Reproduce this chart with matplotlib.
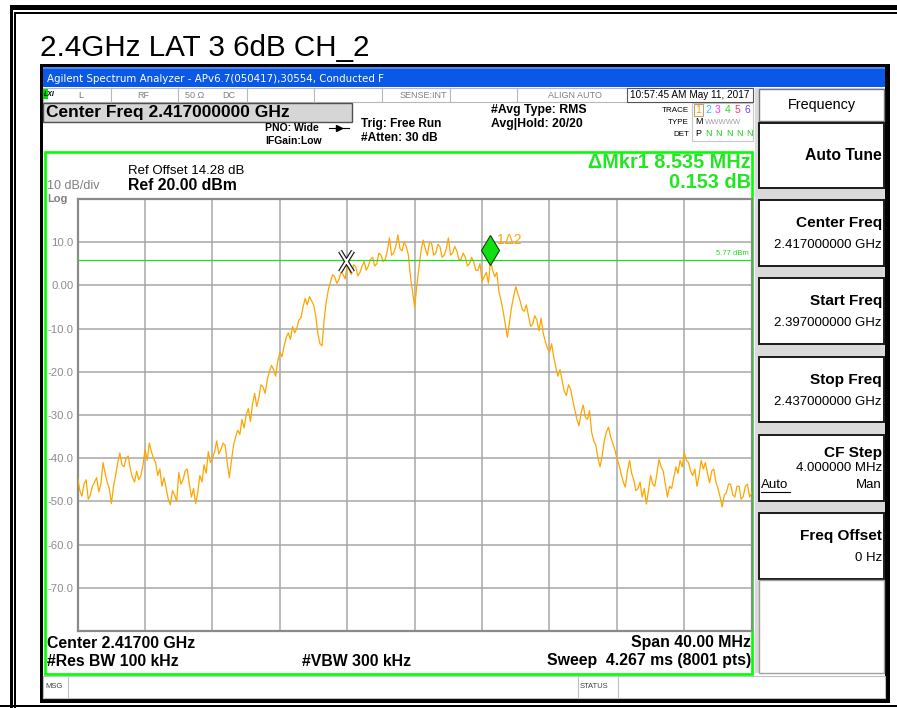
import numpy as np
import matplotlib.pyplot as plt
from matplotlib.patches import Rectangle
from matplotlib.path import Path
from matplotlib.transforms import offset_copy

plt.rcParams['font.family'] = ['Liberation Sans', 'DejaVu Sans']

center_mhz = 2417.0
span_mhz = 40.0
ref_level = 20.0
bottom_level = -80.0

# trace 1 (dBm), 0.125 MHz apart from start to stop freq
trace_dbm = [
    -44.5, -47.5, -48.8, -46.0, -45.0, -49.5, -48.5, -46.5, -45.5, -44.5,
    -47.8, -46.0, -41.0, -43.5, -45.5, -47.0, -50.5, -46.5, -44.0, -41.0,
    -38.8, -41.5, -42.0, -40.0, -39.5, -42.5, -44.5, -45.5, -43.0, -45.0,
    -44.0, -41.5, -38.0, -40.5, -36.5, -38.5, -40.0, -41.0, -44.0, -42.5,
    -46.5, -44.5, -47.0, -49.5, -50.8, -47.5, -48.5, -50.0, -43.3, -46.0,
    -45.0, -43.0, -42.5, -46.0, -49.0, -47.0, -50.5, -48.0, -44.0, -45.5,
    -41.5, -43.5, -38.5, -41.0, -40.0, -38.5, -36.0, -39.0, -38.0, -36.5,
    -37.0, -41.0, -44.5, -40.5, -37.0, -35.0, -33.5, -34.5, -31.0, -33.0,
    -30.0, -28.5, -31.5, -27.5, -25.0, -28.0, -26.0, -23.0, -23.5, -25.0,
    -21.8, -20.0, -18.5, -19.5, -21.0, -17.5, -15.5, -16.5, -14.0, -12.0,
    -11.0, -12.5, -9.5, -11.0, -10.0, -8.0, -7.5, -5.0, -3.0, -4.5,
    -2.6, -3.5, -4.5, -7.0, -11.0, -13.5, -14.0, -8.0, -3.8, -1.0,
    0.8, 2.5, 2.0, 0.5, 1.3, 3.0, 2.5, 1.5, 5.0, 3.5,
    2.5, 4.8, 4.3, 2.2, 3.0, 4.5, 5.5, 3.5, 4.5, 6.0,
    6.5, 4.5, 5.0, 7.5, 7.0, 5.5, 6.0, 8.0, 11.0, 7.0,
    7.5, 9.0, 11.7, 8.5, 8.0, 10.0, 9.0, 7.0, 2.0, -1.5,
    -5.0, 0.0, 4.0, 8.0, 10.5, 8.5, 7.0, 10.0, 9.8, 7.0,
    7.5, 9.5, 9.0, 6.5, 7.0, 8.5, 11.0, 7.0, 7.5, 9.0,
    8.0, 6.0, 6.0, 7.5, 6.5, 4.5, 5.0, 6.5, 5.5, 3.5,
    3.5, 5.0, 1.0, 2.0, 3.0, 0.5, 5.8, 3.5, 2.0, 3.0,
    -1.5, -3.5, -6.0, -9.0, -12.0, -8.5, -5.0, -2.5, -0.3, -2.0,
    -3.5, -5.5, -6.0, -4.5, -7.0, -9.5, -9.0, -7.0, -8.0, -10.5,
    -7.6, -11.0, -13.0, -14.5, -15.5, -13.5, -16.5, -19.0, -21.0, -19.5,
    -22.0, -24.5, -25.5, -23.0, -24.0, -26.5, -28.7, -31.0, -32.5, -29.5,
    -27.7, -30.5, -31.0, -29.0, -34.0, -36.0, -37.0, -40.0, -42.0, -39.5,
    -36.0, -34.0, -32.8, -35.0, -36.5, -38.0, -40.0, -41.5, -43.6, -45.5,
    -46.7, -43.0, -40.5, -43.5, -45.0, -47.5, -47.0, -45.5, -49.0, -47.0,
    -50.6, -47.5, -44.0, -46.0, -46.5, -43.5, -40.3, -42.0, -43.0, -46.0,
    -49.0, -46.5, -47.0, -44.5, -42.0, -43.5, -40.5, -42.0, -38.7, -40.5,
    -41.0, -43.0, -44.0, -42.5, -46.5, -44.0, -40.5, -42.5, -41.0, -43.5,
    -45.7, -43.0, -42.5, -45.5, -47.0, -49.0, -51.3, -48.5, -48.0, -46.0,
    -46.0, -48.5, -49.0, -46.5, -46.5, -49.5, -48.8, -46.5, -46.0, -49.0,
    -48.0,
]

y_tick_vals = [10, 0, -10, -20, -30, -40, -50, -60, -70]
y_tick_labels = ['10.0', '0.00', '-10.0', '-20.0', '-30.0', '-40.0', '-50.0', '-60.0', '-70.0']

# markers: reference (X) and delta marker 1
mkr_ref_offset_mhz = -4.065
mkr_ref_dbm = 5.62
mkr_delta_mhz = 8.535
mkr_delta_db = 0.153
display_line_dbm = 5.77

softkeys = [
    (200, 266, 'Center Freq', '2.417000000 GHz'),
    (278, 344, 'Start Freq', '2.397000000 GHz'),
    (357, 422, 'Stop Freq', '2.437000000 GHz'),
    (513, 579, 'Freq Offset', '0 Hz'),
]
trace_digits = ['1', '2', '3', '4', '5', '6']
trace_colors = ['#ffa000', '#20c8ff', '#ff30ff', '#30d830', '#ff3060', '#7040ff']

fig = plt.figure(figsize=(8.97, 7.08), dpi=100)
bg = fig.add_axes([0, 0, 1, 1])
bg.set_xlim(0, 897)
bg.set_ylim(708, 0)
bg.axis('off')


def box(x0, y0, x1, y1, fc='white', ec='none', lw=0.0, z=1):
    bg.add_patch(Rectangle((x0, y0), x1 - x0, y1 - y0, facecolor=fc,
                           edgecolor=ec, linewidth=lw, zorder=z))


def txt(x, y, s, size=8, color='black', weight='normal', ha='left', **kw):
    bg.text(x, y, s, fontsize=size, color=color, fontweight=weight,
            ha=ha, va='center', zorder=5, **kw)


# page border lines
box(10, 5, 897, 10, fc='black')
box(14, 12, 897, 14, fc='black')
box(10, 5, 12.5, 708, fc='black')
box(14, 12, 15.5, 708, fc='black')
box(0, 705, 897, 707, fc='black')

txt(40, 48, '2.4GHz LAT 3 6dB CH_2', size=21.3)

# analyzer window
box(40, 64, 890, 703, fc='black')
box(43, 67, 885, 698, fc='white')
box(43, 67, 885, 87, fc='#0a58e6')
box(43, 67, 885, 69, fc='#4a8cf5')
txt(47, 78.5, 'Agilent Spectrum Analyzer - APv6.7(050417),30554, Conducted F',
    size=7.4, color='white', family='DejaVu Sans')

# status row
box(43, 88, 753, 102, fc='white', ec='#b8b8b8', lw=0.8)
for xd in [111, 178, 247, 314, 382, 450, 517]:
    bg.plot([xd, xd], [88, 102], color='#b8b8b8', lw=0.8, zorder=2)
box(627, 88, 753, 102, fc='white', ec='#555555', lw=0.8, z=2)
box(43, 89, 47.5, 99, fc='#00e000')
txt(43.5, 94.5, 'LXI', size=5, weight='bold', style='italic')
txt(78, 95, 'L', size=6.5, color='#707070')
txt(143, 95, 'RF', size=6.5, color='#808080', ha='center')
txt(185, 95, '50 Ω', size=6.5, color='#808080')
txt(222, 95, 'DC', size=6.5, color='#808080')
txt(447, 95, 'SENSE:INT', size=6.5, color='#808080', ha='right')
txt(575, 95, 'ALIGN AUTO', size=6.5, color='#808080', ha='center')
txt(630, 95, '10:57:45 AM May 11, 2017', size=7.2)

# centre frequency entry
box(43, 103, 352, 122, fc='#d6d6d6', ec='#505050', lw=1.0)
txt(46, 112.5, 'Center Freq 2.417000000 GHz', size=12.5, weight='bold')
txt(265, 128, 'PNO: Wide', size=7.5, weight='bold')
bg.plot([329, 349], [128, 128], color='black', lw=0.8, zorder=5)
bg.plot([339], [128], marker='>', ms=4, color='black', zorder=5)
txt(265, 141, 'IFGain:Low', size=7.5, weight='bold')
txt(361, 124, 'Trig: Free Run', size=8.6, weight='bold')
txt(361, 138, '#Atten: 30 dB', size=8.6, weight='bold')
txt(491, 110, '#Avg Type: RMS', size=8.8, weight='bold')
txt(491, 124, 'Avg|Hold: 20/20', size=8.8, weight='bold')

# trace status block
box(692, 103, 753, 141, fc='white', ec='#c8c8c8', lw=0.8)
box(694, 103.5, 703, 116, fc='white', ec='#c0a070', lw=0.8, z=2)
txt(689, 110, 'TRACE', size=5.8, ha='right')
txt(689, 122, 'TYPE', size=5.8, ha='right')
txt(689, 134, 'DET', size=5.8, ha='right')
for i, (d, c) in enumerate(zip(trace_digits, trace_colors)):
    txt(698.5 + i * 9.7, 110, d, size=7.5, color=c, ha='center')
txt(698.5, 122, 'M', size=6.5, ha='center')
txt(705, 122, 'WWWWW', size=5.5, color='#a0a0a0')
txt(698.5, 134, 'P', size=6.5, ha='center')
for i in range(1, 6):
    txt(698.5 + i * 10.2, 134, 'N', size=6.5, color='#20d020', ha='center')

# softkey panel
box(755, 88, 885, 673, fc='#dadada')
box(759, 89, 884, 121, fc='white', ec='#777777', lw=1.0)
txt(822, 105, 'Frequency', size=10.4, ha='center')
box(759, 123, 884, 188, fc='white', ec='#1a1a1a', lw=1.4)
txt(882, 156, 'Auto Tune', size=11.3, weight='bold', ha='right')
for top, bot, name, value in softkeys:
    box(759, top, 884, bot, fc='white', ec='#1a1a1a', lw=1.4)
    txt(882, top + 23, name, size=11.1, weight='bold', ha='right')
    txt(882, top + 45, value, size=9.5, ha='right')
box(759, 435, 884, 501, fc='white', ec='#1a1a1a', lw=1.4)
txt(882, 453, 'CF Step', size=11.1, weight='bold', ha='right')
txt(882, 468, '4.000000 MHz', size=9.5, ha='right')
txt(761, 485, 'Auto', size=9.5)
bg.plot([761, 790], [492, 492], color='black', lw=0.8, zorder=5)
txt(882, 485, 'Man', size=9.5, ha='right')
box(759, 580, 884, 673, fc='white', ec='#a0a0a0', lw=1.0)

# message / status bar
box(43, 676, 885, 698, fc='white', ec='#c0c0c0', lw=0.8)
box(43, 676, 68, 698, fc='white', ec='#c0c0c0', lw=0.8)
txt(45, 687, 'MSG', size=5.5, color='#404040')
box(578, 676, 618, 698, fc='white', ec='#c0c0c0', lw=0.8)
txt(580, 687, 'STATUS', size=5.5, color='#404040')

# measurement frame and annotations
box(44.5, 152, 752, 673.5, fc='white', ec='#00ff00', lw=1.9, z=1)
txt(751, 163, f'ΔMkr1 {mkr_delta_mhz:.3f} MHz', size=14.3, weight='bold',
    color='#22e622', ha='right')
txt(751, 182, f'{mkr_delta_db:.3f} dB', size=14.3, weight='bold',
    color='#22e622', ha='right')
txt(128, 171, 'Ref Offset 14.28 dB', size=9.5)
txt(128, 186, f'Ref {ref_level:.2f} dBm', size=11.4, weight='bold')
txt(47, 186, '10 dB/div', size=9, color='#808080')
txt(47, 198.5, 'Log', size=8, color='#808080', weight='bold')
txt(47, 643, f'Center {center_mhz / 1000:.5f} GHz', size=11.4, weight='bold')
txt(751, 643, f'Span {span_mhz:.2f} MHz', size=11.4, weight='bold', ha='right')
txt(47, 661, '#Res BW 100 kHz', size=11.4, weight='bold')
txt(302, 661, '#VBW 300 kHz', size=11.4, weight='bold')
txt(751, 661, 'Sweep  4.267 ms (8001 pts)', size=11.4, weight='bold', ha='right')

# spectrum graticule
ax = fig.add_axes([77.7 / 897, 1 - 631 / 708, 674 / 897, 432 / 708])
ax.set_facecolor('white')
start_mhz = center_mhz - span_mhz / 2
stop_mhz = center_mhz + span_mhz / 2
freq = np.linspace(start_mhz, stop_mhz, len(trace_dbm))
ax.set_xlim(start_mhz, stop_mhz)
ax.set_ylim(bottom_level, ref_level)
ax.set_xticks(np.arange(start_mhz, stop_mhz + 0.1, span_mhz / 10))
ax.set_yticks(y_tick_vals, labels=y_tick_labels)
ax.grid(color='#a8a8a8', lw=1.1)
ax.set_axisbelow(True)
ax.tick_params(length=0, labelbottom=False, labelsize=8.2,
               labelcolor='#8c8c8c', pad=3)
for s in ax.spines.values():
    s.set_color('#8a8a8a')
    s.set_linewidth(1.6)

ax.plot(freq, trace_dbm, color='#ffa500', lw=0.9, zorder=3)
ax.axhline(display_line_dbm, color='#22dd22', lw=0.9, zorder=4)
ax.text(stop_mhz - 0.15, display_line_dbm + 0.7, f'{display_line_dbm:.2f} dBm',
        fontsize=5.5, color='#22dd22', ha='right', va='bottom')

mkr_ref_f = center_mhz + mkr_ref_offset_mhz
mkr1_f = mkr_ref_f + mkr_delta_mhz
mkr1_db = mkr_ref_dbm + mkr_delta_db

# tall outlined X for the reference marker
tall_x = Path([(-0.62, -1), (0.62, 1), (-0.62, 1), (0.62, -1)],
              [Path.MOVETO, Path.LINETO, Path.MOVETO, Path.LINETO])
ax.plot(mkr_ref_f, mkr_ref_dbm, marker=tall_x, ms=15, mew=3.3, color='#202020', zorder=5)
ax.plot(mkr_ref_f, mkr_ref_dbm, marker=tall_x, ms=15, mew=1.5, color='white', zorder=6)
lift = offset_copy(ax.transData, fig=fig, x=0, y=7.5, units='points')
ax.plot(mkr1_f, mkr1_db, marker='d', ms=15, mfc='#10e010', mec='#104010',
        mew=0.8, transform=lift, clip_on=False, zorder=6)
ax.annotate('1Δ2', (mkr1_f, mkr1_db), xytext=(5, 15), textcoords='offset points',
            fontsize=10, color='#ffa500', va='center')

fig.savefig('out.png', dpi=100)
